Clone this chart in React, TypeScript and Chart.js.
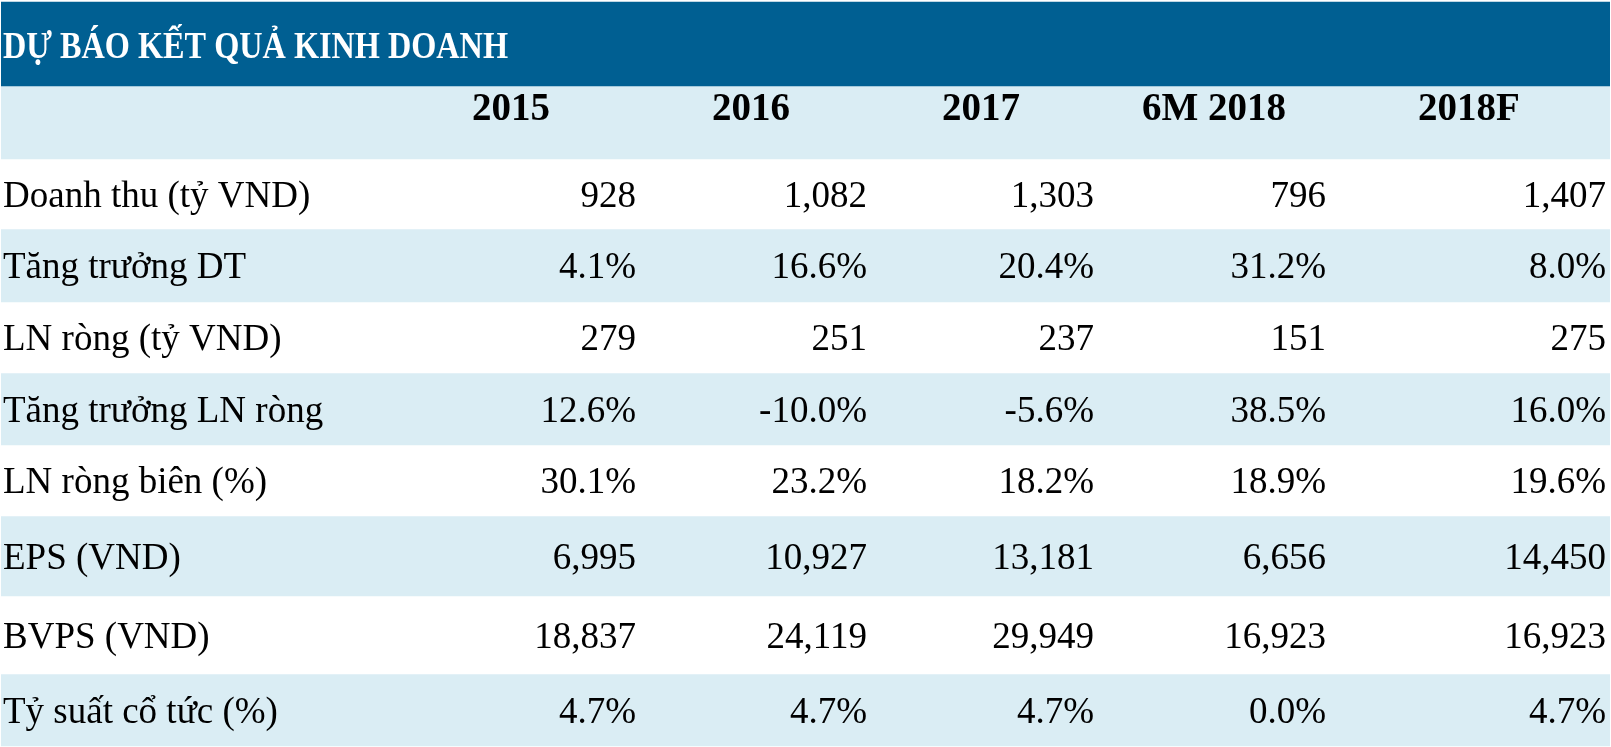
import React, { useEffect, useRef } from "react";
import { Chart, registerables } from "chart.js";

Chart.register(...registerables);

// ---- data ----
const title = "DỰ BÁO KẾT QUẢ KINH DOANH";
const columns = ["2015", "2016", "2017", "6M 2018", "2018F"];
const rowLabels = [
  "Doanh thu (tỷ VND)",
  "Tăng trưởng DT",
  "LN ròng (tỷ VND)",
  "Tăng trưởng LN ròng",
  "LN ròng biên (%)",
  "EPS (VND)",
  "BVPS (VND)",
  "Tỷ suất cổ tức (%)",
];
const revenue = [928, 1082, 1303, 796, 1407];
const revenueGrowth = [4.1, 16.6, 20.4, 31.2, 8.0];
const netProfit = [279, 251, 237, 151, 275];
const netProfitGrowth = [12.6, -10.0, -5.6, 38.5, 16.0];
const netMargin = [30.1, 23.2, 18.2, 18.9, 19.6];
const eps = [6995, 10927, 13181, 6656, 14450];
const bvps = [18837, 24119, 29949, 16923, 16923];
const dividendYield = [4.7, 4.7, 4.7, 0.0, 4.7];

const rowValues = [revenue, revenueGrowth, netProfit, netProfitGrowth, netMargin, eps, bvps, dividendYield];
const rowIsPercent = [false, true, false, true, true, false, false, true];

// ---- layout (table units, matching pixels) ----
const W = 1611;
const H = 747;
const BAND_EDGES = [2, 86, 159, 229, 302, 373, 445, 516, 596, 674, 746];
const VALUE_RIGHT = [636, 867, 1094, 1326, 1606];
const HEADER_LEFT = [472, 712, 942, 1142, 1418];
const LABEL_LEFT = 3;
const DARK = "#005f92";
const LIGHT = "#daedf4";
const WHITE = "#ffffff";
const FONT_FAMILY = "'Liberation Serif', 'DejaVu Serif', serif";

const bandColors = [DARK, LIGHT, WHITE, LIGHT, WHITE, LIGHT, WHITE, LIGHT, WHITE, LIGHT];

function fmt(v: number, pct: boolean): string {
  if (pct) return v.toFixed(1) + "%";
  return v.toLocaleString("en-US");
}

export default function App() {
  const ref = useRef<HTMLCanvasElement | null>(null);

  useEffect(() => {
    const canvas = ref.current;
    if (!canvas) return;

    const datasets = bandColors.map((c, i) => ({
      label: "band" + i,
      data: [[BAND_EDGES[i], BAND_EDGES[i + 1]]] as any,
      backgroundColor: c,
      borderWidth: 0,
      barPercentage: 1,
      categoryPercentage: 1,
      grouped: false,
      xAxisID: "x",
      yAxisID: "y",
    }));

    const textPlugin = {
      id: "tableText",
      afterDatasetsDraw(chart: any) {
        const ctx = chart.ctx as CanvasRenderingContext2D;
        const xs = chart.scales.xc;
        const ys = chart.scales.y;
        ctx.save();
        ctx.textBaseline = "alphabetic";

        // title
        ctx.fillStyle = "#ffffff";
        ctx.textAlign = "left";
        ctx.font = `bold 37px ${FONT_FAMILY}`;
        ctx.fillText(title, xs.getPixelForValue(LABEL_LEFT), ys.getPixelForValue(57.5), 505);

        // header
        ctx.fillStyle = "#000000";
        ctx.font = `bold 39px ${FONT_FAMILY}`;
        columns.forEach((c, j) => {
          ctx.fillText(c, xs.getPixelForValue(HEADER_LEFT[j]), ys.getPixelForValue(120));
        });

        // rows
        ctx.font = `37px ${FONT_FAMILY}`;
        rowLabels.forEach((lab, r) => {
          const top = BAND_EDGES[r + 2];
          const bot = BAND_EDGES[r + 3];
          const base = ys.getPixelForValue((top + bot) / 2) + 12.5;
          ctx.textAlign = "left";
          ctx.fillText(lab, xs.getPixelForValue(LABEL_LEFT), base);
          ctx.textAlign = "right";
          rowValues[r].forEach((v, j) => {
            ctx.fillText(fmt(v, rowIsPercent[r]), xs.getPixelForValue(VALUE_RIGHT[j]), base);
          });
        });
        ctx.restore();
      },
    };

    const chart = new Chart(canvas, {
      type: "bar",
      data: { labels: ["table"], datasets },
      options: {
        animation: false,
        responsive: false,
        maintainAspectRatio: false,
        layout: { padding: { left: 1, right: 1, top: 0, bottom: 0 } },
        plugins: { legend: { display: false }, tooltip: { enabled: false }, title: { display: false } },
        scales: {
          x: { type: "category", display: false, offset: true },
          xc: { type: "linear", display: false, min: 1, max: W - 1, axis: "x", offset: false, grid: { offset: false } },
          y: { type: "linear", display: false, reverse: true, min: 0, max: H, offset: false },
        },
      } as any,
      plugins: [textPlugin],
    });

    return () => chart.destroy();
  }, []);

  return (
    <div style={{ position: "absolute", left: 0, top: 0, width: W, height: H, background: "#ffffff" }}>
      <canvas ref={ref} width={W} height={H} style={{ width: W, height: H, display: "block" }} />
    </div>
  );
}
